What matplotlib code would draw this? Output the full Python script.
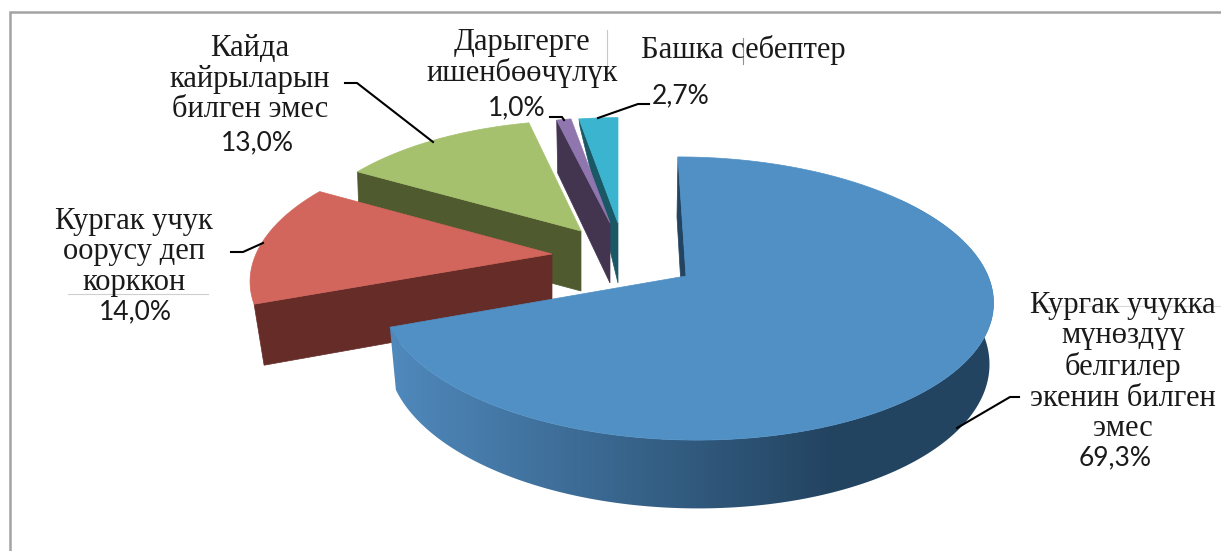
import numpy as np
import matplotlib
matplotlib.use("Agg")
import matplotlib.pyplot as plt
from matplotlib.patches import Polygon
from matplotlib.colors import to_rgb

labels = ["Кургак учукка\nмүнөздүү\nбелгилер\nэкенин билген\nэмес",
          "Кургак учук\nоорусу деп\nкорккон",
          "Кайда\nкайрыларын\nбилген эмес",
          "Дарыгерге\nишенбөөчүлүк",
          "Башка себептер"]
values = [69.3, 14.0, 13.0, 1.0, 2.7]

top_colors = ["#5090c5", "#d2655c", "#a6c16e", "#8f76ae", "#3bb5cf"]
wall_colors = ["#234461", "#652c28", "#4f5a2e", "#43344f", "#1b5866"]

# where each exploded slice sits in the picture
apex_x = [686, 552, 581, 610, 618]
apex_y = [276, 254, 231, 223, 223]
scale = [1.0, 0.98, 0.93, 0.885, 0.885]
shear = [-9.3, 12, 5, 0, 0]
outer_depth = [60, 61, 60, 53, 8]
outer_dx = [-1, 10, 2, 1, 1]

label_xy = [(1123, 367), (134, 252), (250, 79), (522, 58), (743, 50)]
pct_xy = [(1115, 458), (135, 312), (257, 143), (517, 108), (681, 96)]
leaders = [[(957, 428), (1010, 397), (1019, 397)],
           [(231, 252), (243, 252), (263, 243)],
           [(345, 83), (357, 83), (433, 142)],
           [(550, 117), (562, 117), (564, 120)],
           [(598, 118), (638, 104), (649, 104)]]

K_TOP, A_TOP, B_TOP = 0.159, 302, 138
K_BOT, A_BOT, B_BOT = 0.159, 297, 145


def rim(theta, i, a, b, k):
    u, v = np.sin(theta), np.cos(theta)
    w = 1 + k * v
    x = scale[i] * (a * u + shear[i] * v) / w
    y = -scale[i] * b * v / w
    return x, y


fig = plt.figure(figsize=(12.21, 5.51), dpi=100)
ax = fig.add_axes([0, 0, 1, 1])
ax.set_xlim(0, 1221)
ax.set_ylim(551, 0)
ax.axis("off")

# chart frame
ax.plot([9.5, 9.5, 1221], [551, 12, 12], color="#a3a3a3", lw=1.8, solid_joinstyle="miter")

edges = np.cumsum([0] + values) / sum(values) * 2 * np.pi

for i in [4, 3, 2, 1, 0]:
    t = np.linspace(edges[i], edges[i + 1], 160)
    tx, ty = rim(t, i, A_TOP, B_TOP, K_TOP)
    tx, ty = tx + apex_x[i], ty + apex_y[i]

    # cut face
    cut = [(tx[0], ty[0]), (tx[0] + outer_dx[i], ty[0] + outer_depth[i]),
           (apex_x[i] - 2 if i == 0 else apex_x[i], apex_y[i] + 60), (apex_x[i], apex_y[i])]
    ax.add_patch(Polygon(cut, closed=True, fc=wall_colors[i], ec=wall_colors[i], lw=0.5))

    # outer wall, only the big slice shows one. it fades to the left
    if i == 0:
        t2 = np.linspace(np.pi / 2 - 0.7, edges[1], 200)
        x1, y1 = rim(t2, i, A_TOP, B_TOP, K_TOP)
        x2, y2 = rim(t2, i, A_BOT, B_BOT, K_BOT)
        x1, y1 = x1 + apex_x[i], y1 + apex_y[i]
        x2, y2 = x2 + apex_x[i] + 1, y2 + apex_y[i] + 60
        pts = list(zip(x1, y1)) + list(zip(x2[::-1], y2[::-1]))
        wall = Polygon(pts, closed=True, fc="none", ec="none")
        ax.add_patch(wall)
        f = np.clip((np.arange(380, 1000) - 396) / (830 - 396), 0, 1)[None, :, None]
        light = np.array(to_rgb("#4f88bb"))
        dark = np.array(to_rgb(wall_colors[0]))
        grad = light * (1 - f) + dark * f
        im = ax.imshow(grad, extent=[380, 1000, 520, 200], aspect="auto", zorder=1)
        im.set_clip_path(wall)
        ax.set_xlim(0, 1221)
        ax.set_ylim(551, 0)

    # top face
    pts = [(apex_x[i], apex_y[i])] + list(zip(tx, ty))
    ax.add_patch(Polygon(pts, closed=True, fc=top_colors[i], ec=top_colors[i], lw=0.5))

for line in leaders:
    xs, ys = zip(*line)
    ax.plot(xs, ys, color="black", lw=1.5)

# faint stray lines from the source picture
ax.plot([68, 208], [294, 294], color="#cfcfcf", lw=0.8)
ax.plot([607, 607], [30, 80], color="#c8c8c8", lw=0.8)
ax.plot([743, 743], [38, 64], color="#909090", lw=0.8)
ax.plot([1035, 1221], [306, 306], color="#d8d8d8", lw=0.8)

for i in range(len(values)):
    ax.text(label_xy[i][0], label_xy[i][1], labels[i], family="Liberation Serif", fontsize=22,
            ha="center", va="center", linespacing=1.07, color="#1a1a1a")
    ax.text(pct_xy[i][0], pct_xy[i][1], f"{values[i]:.1f}%".replace(".", ","), family="Lato",
            fontsize=19, ha="center", va="center", color="#1a1a1a")

fig.savefig("out.png", dpi=100)
